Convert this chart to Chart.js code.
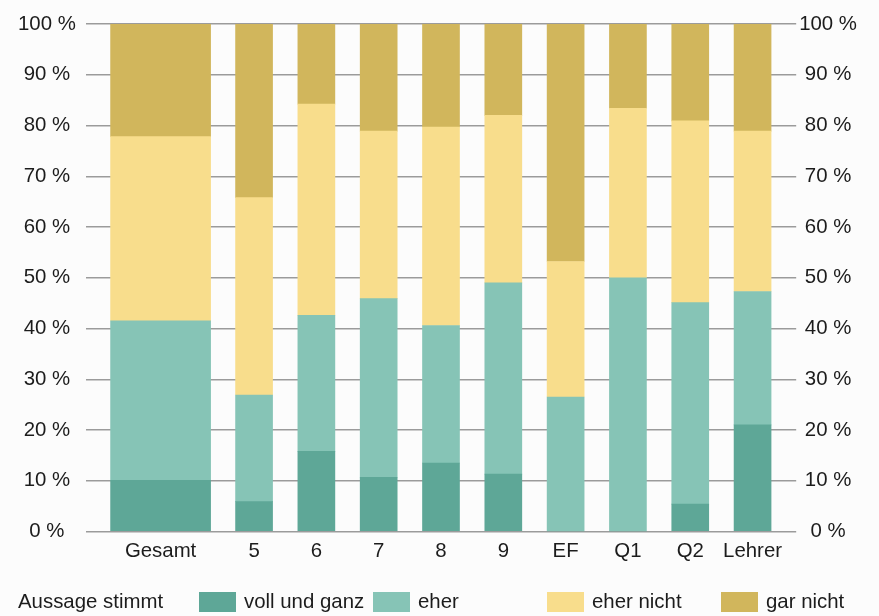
<!DOCTYPE html>
<html>
<head>
<meta charset="utf-8">
<script src="https://cdn.jsdelivr.net/npm/chart.js@4"></script>
<style>
  html, body { margin: 0; padding: 0; background: #fcfcfc; }
  #wrap { width: 879px; height: 616px; }
</style>
</head>
<body>
<div id="wrap"><canvas id="chart" width="879" height="616"></canvas></div>
<script>
const categories = ["Gesamt", "5", "6", "7", "8", "9", "EF", "Q1", "Q2", "Lehrer"];
const seriesNames = ["voll und ganz", "eher", "eher nicht", "gar nicht"];
const legendTitle = "Aussage stimmt";

const vollUndGanz = [10.1, 5.9, 15.8, 10.7, 13.5, 11.3, 0, 0, 5.4, 21.0];
const eher = [31.4, 21.0, 26.8, 35.2, 27.1, 37.7, 26.5, 50.0, 39.7, 26.3];
const eherNicht = [36.3, 38.9, 41.6, 33.0, 39.1, 33.0, 26.7, 33.4, 35.8, 31.6];
const garNicht = [22.2, 34.2, 15.8, 21.1, 20.3, 18.0, 46.8, 16.6, 19.1, 21.1];

const yTicks = [0, 10, 20, 30, 40, 50, 60, 70, 80, 90, 100];

const colors = ["#5ea797", "#86c4b6", "#f8dd8c", "#d1b65c"];
const fontFamily = "'Liberation Sans', Arial, sans-serif";
const fontSize = 20.4;
const textColor = "#1c1c1c";

// Gesamt bar takes a double slot, the rest sit one slot apart
function slotOf(i) {
  return i === 0 ? 1.5 : i + 2;
}
const slots = categories.map((c, i) => slotOf(i));

function makeDatasets() {
  const values = [vollUndGanz, eher, eherNicht, garNicht];
  const sets = [];

  values.forEach((series, s) => {
    sets.push({
      label: seriesNames[s],
      data: [{ x: slots[0], y: series[0] }],
      backgroundColor: colors[s],
      stack: "gesamt",
      barThickness: 100,
    });
  });

  values.forEach((series, s) => {
    sets.push({
      label: seriesNames[s],
      data: series.slice(1).map((v, i) => ({ x: slots[i + 1], y: v })),
      backgroundColor: colors[s],
      stack: "klassen",
      barThickness: 37,
    });
  });

  return sets;
}

const legendPlugin = {
  id: "fixedLegend",
  afterDraw(chart) {
    const ctx = chart.ctx;
    ctx.save();
    ctx.font = fontSize + "px " + fontFamily;
    ctx.fillStyle = textColor;
    ctx.textBaseline = "middle";
    ctx.textAlign = "left";
    ctx.fillText(legendTitle, 18, 602);

    seriesNames.forEach((name, i) => {
      const x = 199 + i * 174;
      ctx.fillStyle = colors[i];
      ctx.fillRect(x, 592, 37, 20);
      ctx.fillStyle = textColor;
      ctx.fillText(name, x + 45, 602);
    });
    ctx.restore();
  },
};

const tickFont = { family: fontFamily, size: fontSize };

new Chart(document.getElementById("chart").getContext("2d"), {
  type: "bar",
  data: { datasets: makeDatasets() },
  options: {
    responsive: false,
    animation: false,
    grouped: false,
    layout: { padding: { top: 24, left: 8, right: 19, bottom: 52 } },
    plugins: {
      legend: { display: false },
      tooltip: { enabled: false },
    },
    scales: {
      x: {
        type: "linear",
        min: 0.3,
        max: 11.7,
        offset: false,
        stacked: true,
        grid: { display: false },
        border: { display: false },
        afterBuildTicks: (scale) => {
          scale.ticks = slots.map((v) => ({ value: v }));
        },
        ticks: {
          autoSkip: false,
          maxRotation: 0,
          padding: 0,
          font: tickFont,
          color: textColor,
          callback: (v) => categories[slots.indexOf(v)],
        },
      },
      y: {
        position: "left",
        stacked: true,
        min: 0,
        max: 100,
        afterBuildTicks: (scale) => {
          scale.ticks = yTicks.map((v) => ({ value: v }));
        },
        grid: { color: "#9b9b9b", lineWidth: 1.5, drawTicks: false },
        border: { display: false },
        ticks: {
          padding: 10,
          crossAlign: "center",
          font: tickFont,
          color: textColor,
          callback: (v) => v + " %",
        },
      },
      y2: {
        position: "right",
        min: 0,
        max: 100,
        afterBuildTicks: (scale) => {
          scale.ticks = yTicks.map((v) => ({ value: v }));
        },
        grid: { display: false, drawTicks: false },
        border: { display: false },
        ticks: {
          padding: 3,
          crossAlign: "center",
          font: tickFont,
          color: textColor,
          callback: (v) => v + " %",
        },
      },
    },
  },
  plugins: [legendPlugin],
});
</script>
</body>
</html>
